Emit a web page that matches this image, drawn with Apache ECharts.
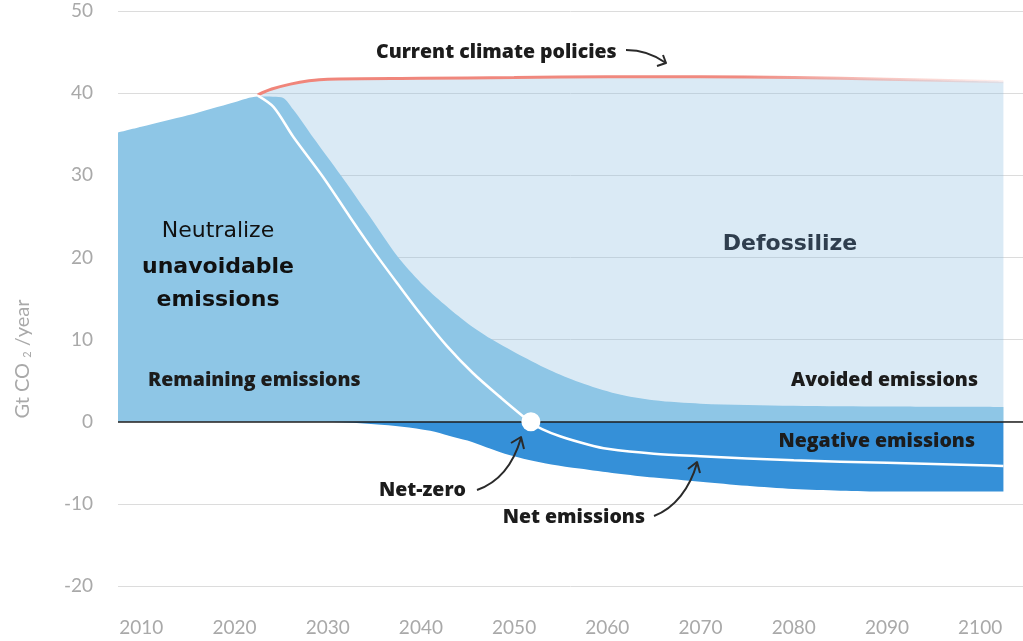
<!DOCTYPE html>
<html><head><meta charset="utf-8">
<script src="https://cdn.jsdelivr.net/npm/echarts/dist/echarts.min.js"></script>
<style>html,body{margin:0;padding:0;background:#fff}#c{width:1023px;height:641px}</style>
</head><body><div id="c"></div>
<script>
// ---- data (year, Gt CO2/year) ----
const xTickLabels = [2010, 2020, 2030, 2040, 2050, 2060, 2070, 2080, 2090, 2100];
const yTickValues = [-20, -10, 0, 10, 20, 30, 40, 50];
const currentPolicies = [[2022.5,39.8],[2024,40.5],[2026,41.1],[2028,41.5],[2030,41.7],[2040,41.8],[2050,41.9],[2060,42.0],[2070,42.0],[2080,41.9],[2090,41.7],[2102.5,41.4]];
const grossEmissions = [[2007.5,35.2],[2010,35.9],[2015,37.3],[2020,38.9],[2022.5,39.6],[2025,39.5],[2026.3,38.0],[2028.5,34.5],[2031.4,30],[2034.5,25],[2037.5,20.1],[2040,16.9],[2042.5,14.3],[2045,12.0],[2047.5,10.1],[2050,8.5],[2053.8,6.3],[2057,4.8],[2061,3.4],[2065,2.6],[2070,2.2],[2080,1.95],[2090,1.85],[2102.5,1.8]];
const negativeEmissions = [[2007.5,0],[2029,0],[2032,-0.1],[2035,-0.3],[2038,-0.6],[2041,-1.1],[2043,-1.7],[2045,-2.3],[2047,-3.1],[2049,-3.9],[2051,-4.5],[2054,-5.2],[2057,-5.7],[2061,-6.3],[2065,-6.8],[2070,-7.3],[2075,-7.8],[2080,-8.2],[2085,-8.4],[2090,-8.5],[2102.5,-8.5]];
const netEmissions = [[2022.5,39.7],[2024.2,38.3],[2026.3,34.7],[2029.5,29.8],[2032.4,24.9],[2034.9,20.8],[2037.5,16.8],[2039.9,13.2],[2042.8,9.2],[2045.6,5.9],[2048.5,3.0],[2051.7,0],[2053,-0.9],[2055,-1.8],[2058,-2.8],[2060,-3.3],[2065,-3.9],[2070,-4.2],[2080,-4.7],[2090,-5.0],[2100,-5.3],[2102.5,-5.4]];
const netZeroPoint = [[2051.8, 0]];

const chart = echarts.init(document.getElementById('c'), null, {renderer:'canvas'});
const ann = '"Open Sans", "Lato", sans-serif';
const dv = '"DejaVu Sans", Verdana, sans-serif';
function txt(x, y, text, opts) {
  return {
    type: 'text', x: x, y: y, z: 100,
    style: Object.assign({ text: text, fill: '#1c1c1c', font: '800 19.5px ' + ann, textAlign: 'left', textVerticalAlign: 'middle' }, opts || {})
  };
}
function arrow(pts, head) {
  return [
    { type: 'bezierCurve', z: 100, shape: { x1: pts[0], y1: pts[1], cpx1: pts[2], cpy1: pts[3], cpx2: pts[4], cpy2: pts[5], x2: pts[6], y2: pts[7] }, style: { stroke: '#2a2a2a', lineWidth: 2, fill: null } },
    { type: 'polyline', z: 100, shape: { points: head }, style: { stroke: '#2a2a2a', lineWidth: 2, fill: null, lineJoin: 'round' } }
  ];
}
const option = {
  animation: false,
  grid: { left: 118, right: 0, top: 11, bottom: 55, containLabel: false },
  xAxis: {
    type: 'value', min: 2007.5, max: 2104.6,
    axisLine: { show: false }, axisTick: { show: false }, splitLine: { show: false },
    axisLabel: { customValues: xTickLabels, color: '#a9a9a9', fontSize: 19, fontFamily: 'Lato', margin: 32, formatter: v => String(v) }
  },
  yAxis: {
    type: 'value', min: -20, max: 50, interval: 10,
    axisLine: { show: false }, axisTick: { show: false },
    splitLine: { lineStyle: { color: '#dcdcdc', width: 1 } },
    axisLabel: { color: '#a9a9a9', fontSize: 19, fontFamily: 'Lato', margin: 25 }
  },
  series: [
    { name: 'Current climate policies', type: 'line', data: currentPolicies, symbol: 'none', smooth: 0.3, z: 2,
      lineStyle: { width: 3, color: new echarts.graphic.LinearGradient(0,0,1,0,[{offset:0,color:'#f0857a'},{offset:0.65,color:'#f08a80'},{offset:1,color:'rgba(245,160,150,0.15)'}]) },
      areaStyle: { color: 'rgba(140,190,225,0.32)', opacity: 1 } },
    { name: 'Gross emissions', type: 'line', data: grossEmissions, symbol: 'none', smooth: 0.3, z: 3,
      lineStyle: { width: 0 }, areaStyle: { color: '#8ec6e6', opacity: 1 } },
    { name: 'Negative emissions', type: 'line', data: negativeEmissions, symbol: 'none', smooth: 0.3, z: 3,
      lineStyle: { width: 0 }, areaStyle: { color: '#3590d8', opacity: 1 } },
    { name: 'Net emissions', type: 'line', data: netEmissions, symbol: 'none', smooth: 0.3, z: 4,
      lineStyle: { width: 2.5, color: '#ffffff' },
      markLine: { silent: true, symbol: ['none','none'], label: { show: false }, lineStyle: { color: '#1e1e1e', width: 1.5, type: 'solid' }, data: [{ yAxis: 0 }] } },
    { name: 'Net-zero', type: 'scatter', data: netZeroPoint, symbolSize: 19, z: 6, itemStyle: { color: '#ffffff', opacity: 1 } }
  ],
  graphic: [
    { type: 'text', x: 23, y: 359, rotation: Math.PI/2, z: 100,
      style: { text: '{a|Gt CO }{s|2}{a| /year}', textAlign: 'center', textVerticalAlign: 'middle',
        rich: { a: { fontSize: 20, fontFamily: 'Lato', fill: '#a9a9a9', color: '#a9a9a9' }, s: { fontSize: 11, fontFamily: 'Lato', color: '#a9a9a9', fill: '#a9a9a9', padding: [8,0,0,0] } } } },
    txt(376, 52, 'Current climate policies'),
    txt(218, 231, 'Neutralize', { font: '22px ' + dv, textAlign: 'center', fill: '#111' }),
    txt(218, 267, 'unavoidable', { font: 'bold 22px ' + dv, textAlign: 'center', fill: '#111' }),
    txt(218, 300, 'emissions', { font: 'bold 22px ' + dv, textAlign: 'center', fill: '#111' }),
    txt(790, 244, 'Defossilize', { font: 'bold 22px ' + dv, textAlign: 'center', fill: '#2f3e4e' }),
    txt(148, 380, 'Remaining emissions'),
    txt(978, 380, 'Avoided emissions', { textAlign: 'right' }),
    txt(975, 441, 'Negative emissions', { textAlign: 'right' }),
    txt(466, 490, 'Net-zero', { textAlign: 'right' }),
    txt(645, 517, 'Net emissions', { textAlign: 'right' }),
    ...arrow([626,50, 640,50, 655,55, 666,63], [[657,66],[666,63],[663,55]]),
    ...arrow([477,490, 500,482, 514,462, 521,438], [[511,443],[521,437],[524,449]]),
    ...arrow([654,516, 675,508, 690,488, 697,463], [[688,469],[697,462],[700,473]])
  ]
};
chart.setOption(option);
</script></body></html>
